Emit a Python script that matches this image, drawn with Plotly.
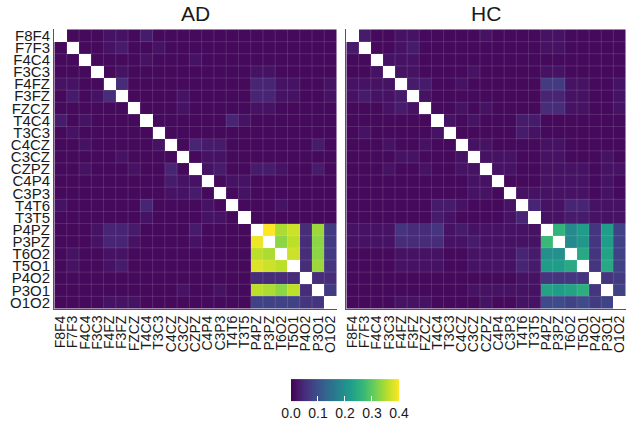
import plotly.graph_objects as go

channels = ["F8F4", "F7F3", "F4C4", "F3C3", "F4FZ", "F3FZ", "FZCZ", "T4C4",
            "T3C3", "C4CZ", "C3CZ", "CZPZ", "C4P4", "C3P3", "T4T6", "T3T5",
            "P4PZ", "P3PZ", "T6O2", "T5O1", "P4O2", "P3O1", "O1O2"]

N = None
# values in hundredths, rows top->bottom, columns left->right (diagonal empty)
ad_pct = [
    [N, 1, 1, 1, 2, 2, 1, 3, 1, 1, 1, 1, 1, 1, 1, 1, 1, 1, 1, 1, 1, 1, 1],
    [1, N, 1, 1, 2, 3, 1, 1, 2, 1, 1, 1, 1, 1, 1, 1, 1, 1, 1, 1, 1, 1, 1],
    [1, 1, N, 1, 1, 1, 1, 2, 1, 1, 1, 2, 1, 1, 1, 1, 1, 1, 1, 1, 1, 1, 1],
    [1, 1, 1, N, 1, 2, 1, 1, 1, 1, 1, 1, 1, 1, 1, 1, 2, 2, 1, 1, 1, 1, 1],
    [2, 2, 1, 1, N, 5, 1, 1, 1, 1, 1, 1, 1, 1, 1, 1, 4, 4, 2, 2, 1, 1, 2],
    [1, 3, 1, 2, 5, N, 1, 1, 1, 1, 2, 1, 1, 1, 1, 1, 4, 4, 2, 2, 1, 1, 2],
    [1, 1, 1, 1, 1, 1, N, 1, 1, 1, 2, 1, 1, 1, 1, 1, 2, 2, 1, 1, 1, 1, 1],
    [3, 1, 2, 1, 1, 1, 1, N, 1, 1, 1, 1, 1, 1, 4, 2, 1, 1, 1, 1, 1, 1, 1],
    [1, 2, 1, 1, 1, 1, 1, 1, N, 1, 1, 1, 1, 1, 1, 1, 1, 1, 1, 1, 1, 1, 1],
    [1, 1, 2, 1, 1, 1, 1, 1, 2, N, 1, 4, 3, 3, 1, 1, 1, 1, 1, 1, 1, 3, 1],
    [1, 1, 1, 1, 1, 2, 1, 1, 1, 1, N, 1, 2, 2, 1, 1, 1, 1, 1, 1, 1, 1, 1],
    [1, 1, 2, 1, 1, 1, 2, 1, 1, 4, 1, N, 2, 3, 1, 1, 3, 3, 2, 1, 1, 3, 1],
    [1, 1, 1, 1, 1, 1, 1, 1, 1, 3, 2, 2, N, 1, 2, 2, 1, 1, 1, 1, 1, 1, 1],
    [1, 1, 1, 1, 1, 1, 1, 1, 1, 2, 2, 3, 1, N, 1, 2, 1, 1, 1, 1, 1, 1, 1],
    [2, 1, 1, 1, 1, 1, 1, 4, 1, 1, 1, 1, 2, 1, N, 1, 1, 1, 2, 1, 1, 1, 1],
    [1, 1, 1, 1, 1, 1, 1, 2, 1, 1, 1, 1, 2, 2, 1, N, 1, 1, 1, 1, 1, 1, 1],
    [1, 1, 1, 2, 4, 4, 3, 1, 1, 1, 1, 3, 1, 1, 1, 1, N, 40, 35, 37, 5, 34, 7],
    [1, 1, 1, 2, 4, 4, 2, 1, 1, 1, 1, 2, 1, 1, 1, 1, 39, N, 33, 36, 5, 33, 7],
    [1, 2, 1, 1, 2, 2, 1, 1, 1, 1, 1, 1, 1, 1, 1, 1, 36, 35, N, 37, 5, 33, 7],
    [1, 2, 1, 1, 2, 3, 1, 1, 1, 1, 1, 1, 1, 1, 1, 1, 38, 37, 36, N, 5, 34, 6],
    [1, 1, 1, 1, 1, 1, 1, 1, 1, 1, 1, 1, 1, 1, 1, 1, 5, 5, 5, 5, N, 5, 5],
    [1, 1, 1, 1, 1, 1, 1, 1, 1, 1, 2, 1, 1, 2, 1, 1, 36, 35, 33, 36, 5, N, 7],
    [1, 1, 1, 1, 2, 2, 2, 1, 1, 1, 1, 1, 1, 1, 1, 1, 8, 8, 8, 8, 6, 6, N],
]

hc_pct = [
    [N, 3, 1, 1, 2, 2, 1, 1, 1, 1, 1, 2, 1, 1, 1, 1, 2, 2, 1, 1, 1, 1, 1],
    [3, N, 1, 1, 2, 3, 1, 1, 1, 1, 1, 1, 1, 1, 1, 1, 2, 2, 1, 1, 1, 1, 1],
    [1, 1, N, 2, 2, 2, 1, 1, 1, 1, 1, 1, 1, 1, 1, 1, 1, 1, 1, 1, 1, 1, 1],
    [1, 1, 2, N, 2, 2, 1, 1, 1, 1, 2, 1, 1, 1, 1, 1, 2, 2, 1, 1, 1, 1, 1],
    [2, 2, 2, 2, N, 3, 3, 1, 1, 2, 1, 1, 1, 1, 1, 1, 7, 7, 2, 2, 1, 1, 2],
    [2, 3, 2, 2, 3, N, 2, 1, 1, 1, 1, 1, 1, 1, 1, 1, 4, 4, 2, 2, 1, 1, 2],
    [1, 1, 1, 2, 3, 2, N, 1, 1, 2, 1, 2, 1, 1, 1, 1, 5, 5, 2, 2, 1, 1, 2],
    [1, 1, 1, 1, 1, 1, 1, N, 2, 1, 2, 1, 1, 1, 3, 3, 1, 1, 1, 1, 1, 1, 1],
    [1, 2, 1, 1, 1, 1, 1, 2, N, 1, 1, 1, 1, 1, 3, 2, 1, 1, 1, 1, 1, 1, 1],
    [1, 1, 1, 2, 1, 1, 2, 1, 1, N, 2, 2, 1, 1, 1, 1, 2, 2, 1, 1, 1, 1, 1],
    [1, 1, 1, 1, 2, 2, 1, 1, 1, 2, N, 2, 2, 2, 1, 1, 2, 2, 1, 1, 1, 2, 1],
    [1, 1, 1, 2, 1, 1, 2, 1, 1, 2, 2, N, 2, 2, 1, 1, 2, 2, 2, 2, 1, 2, 2],
    [1, 1, 1, 1, 1, 1, 1, 1, 1, 1, 2, 2, N, 1, 1, 1, 2, 2, 2, 2, 1, 2, 1],
    [1, 1, 1, 1, 1, 1, 1, 1, 1, 1, 2, 2, 1, N, 2, 2, 2, 2, 2, 2, 1, 2, 1],
    [1, 1, 1, 1, 1, 1, 1, 3, 3, 2, 1, 1, 1, 2, N, 4, 2, 2, 4, 4, 2, 2, 2],
    [1, 1, 1, 1, 1, 1, 1, 3, 2, 1, 1, 1, 1, 2, 4, N, 2, 2, 3, 3, 2, 2, 2],
    [2, 2, 2, 2, 6, 5, 5, 6, 2, 3, 2, 2, 2, 2, 2, 2, N, 26, 19, 22, 6, 22, 8],
    [2, 2, 2, 2, 5, 5, 5, 5, 2, 2, 3, 2, 2, 2, 2, 2, 27, N, 19, 21, 6, 22, 8],
    [1, 1, 1, 1, 2, 2, 2, 2, 1, 1, 2, 2, 2, 2, 4, 3, 20, 20, N, 24, 6, 23, 8],
    [1, 1, 1, 1, 2, 2, 2, 2, 1, 1, 2, 2, 2, 2, 4, 3, 22, 22, 24, N, 6, 24, 8],
    [1, 1, 1, 1, 1, 1, 1, 1, 1, 1, 1, 1, 1, 1, 2, 2, 6, 6, 6, 6, N, 6, 7],
    [1, 1, 1, 1, 1, 1, 1, 1, 1, 1, 2, 2, 2, 2, 2, 2, 23, 22, 23, 25, 6, N, 8],
    [1, 1, 1, 1, 2, 2, 2, 1, 1, 1, 1, 2, 1, 1, 2, 2, 9, 9, 8, 9, 7, 8, N],
]

panel_titles = ["AD", "HC"]
cbar_ticks = [0.0, 0.1, 0.2, 0.3, 0.4]


def scale(m):
    return [[None if v is None else v / 100 for v in row] for row in m]


fig = go.Figure()
fig.add_trace(go.Heatmap(z=scale(ad_pct), x=channels, y=channels,
                         coloraxis="coloraxis",
                         xaxis="x", yaxis="y", hoverongaps=False))
fig.add_trace(go.Heatmap(z=scale(hc_pct), x=channels, y=channels,
                         coloraxis="coloraxis",
                         xaxis="x2", yaxis="y2", hoverongaps=False))

# faint tile borders drawn over the cells
n = len(channels)
shapes = []
for xr, yr in (("x", "y"), ("x2", "y2")):
    for k in range(1, n):
        b = k - 0.5
        shapes.append(dict(type="line", xref=xr, yref=yr, x0=b, x1=b,
                           y0=-0.5, y1=n - 0.5, layer="above",
                           line=dict(color="rgba(255,255,255,0.13)", width=1)))
        shapes.append(dict(type="line", xref=xr, yref=yr, y0=b, y1=b,
                           x0=-0.5, x1=n - 0.5, layer="above",
                           line=dict(color="rgba(255,255,255,0.13)", width=1)))

font_fam = "Liberation Sans, Arial"
tickfont = dict(family=font_fam, size=14, color="#1a1a1a")
ytickfont = dict(family=font_fam, size=15, color="#1a1a1a")
axis_common = dict(showgrid=False, zeroline=False, showline=True,
                   linecolor="#555555", linewidth=1, ticks="",
                   type="category", tickmode="linear", dtick=1, tick0=0,
                   automargin=False)

fig.update_layout(
    width=628, height=427,
    margin=dict(l=54, r=2, t=29, b=118, autoexpand=False),
    paper_bgcolor="white", plot_bgcolor="white",
    shapes=shapes,
    xaxis=dict(domain=[0, 0.4948], tickangle=-90, tickfont=tickfont,
               anchor="y", **axis_common),
    yaxis=dict(domain=[0, 1], autorange="reversed", tickfont=ytickfont,
               anchor="x", **axis_common),
    xaxis2=dict(domain=[0.5105, 1], tickangle=-90, tickfont=tickfont,
                anchor="y2", **axis_common),
    yaxis2=dict(domain=[0, 1], autorange="reversed", showticklabels=False,
                anchor="x2", **axis_common),
    coloraxis=dict(
        colorscale="Viridis", cmin=0, cmax=0.4,
        colorbar=dict(
            orientation="h", x=0.5087, xanchor="center", y=-0.3346,
            yanchor="middle", thickness=22, len=108, lenmode="pixels",
            outlinewidth=0, tickvals=cbar_ticks,
            ticktext=[f"{t:.1f}" for t in cbar_ticks],
            ticks="inside", tickcolor="white", ticklen=5,
            tickfont=dict(family=font_fam, size=14, color="#1a1a1a"),
            xpad=0, ypad=0,
        ),
    ),
    annotations=[
        dict(text=panel_titles[0], x=0.2474, y=1.054, xref="paper",
             yref="paper", showarrow=False, xanchor="center",
             yanchor="middle",
             font=dict(family=font_fam, size=21, color="#1a1a1a")),
        dict(text=panel_titles[1], x=0.755, y=1.054, xref="paper",
             yref="paper", showarrow=False, xanchor="center",
             yanchor="middle",
             font=dict(family=font_fam, size=21, color="#1a1a1a")),
    ],
)

fig.write_html("out.html",
               config={"displayModeBar": False},
               post_script="document.body.style.margin='0';"
                           "document.body.style.padding='0';")
